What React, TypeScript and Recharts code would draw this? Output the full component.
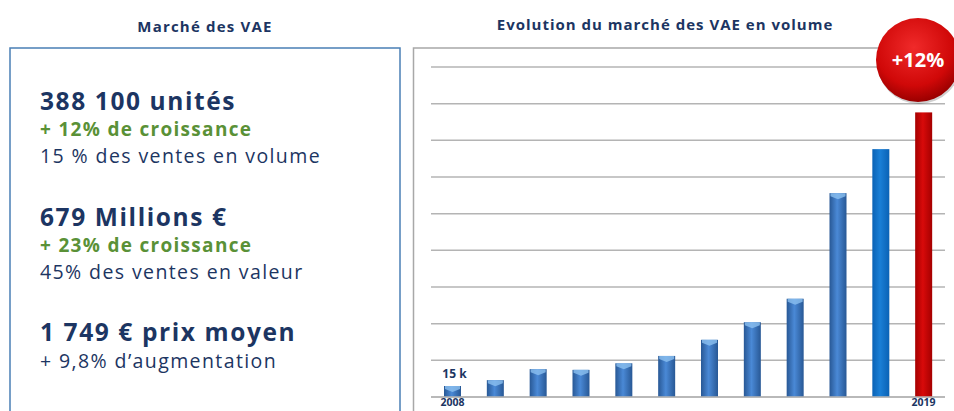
import React from "react";
import { BarChart, Bar, XAxis, YAxis, CartesianGrid, LabelList } from "recharts";

const years = ["2008", "2009", "2010", "2011", "2012", "2013", "2014", "2015", "2016", "2017", "2018", "2019"];
const volumes = [15000, 23000, 38000, 37000, 46000, 56000, 78000, 102000, 134000, 278000, 338000, 388100];
const barLabels = ["15 k", "", "", "", "", "", "", "", "", "", "", ""];
const shownYears = ["2008", "2019"];
const yTicks = [0, 50000, 100000, 150000, 200000, 250000, 300000, 350000, 400000, 450000];
const barTones = ["blue", "blue", "blue", "blue", "blue", "blue", "blue", "blue", "blue", "blue", "bright", "red"];

const leftTitle = "Marché des VAE";
const rightTitle = "Evolution du marché des VAE en volume";
const badgeText = "+12%";
const statLines = [
  { text: "388 100 unités", kind: "big" },
  { text: "+ 12% de croissance", kind: "green" },
  { text: "15 % des ventes en volume", kind: "plain" },
  { text: "679 Millions €", kind: "big" },
  { text: "+ 23% de croissance", kind: "green" },
  { text: "45% des ventes en valeur", kind: "plain" },
  { text: "1 749 € prix moyen", kind: "big" },
  { text: "+ 9,8% d’augmentation", kind: "plain" },
];
const statBaselines = [110, 136, 163, 226, 252, 279, 341, 368];

const data = years.map((y, i) => ({ year: y, value: volumes[i], label: barLabels[i], tone: barTones[i] }));

const NAVY = "#1c3562";
const GREEN = "#5a9137";
const FONT = "'Open Sans', sans-serif";

const styles: Record<string, { size: number; weight: number; spacing: number; color: string }> = {
  big: { size: 24.5, weight: 700, spacing: 1.6, color: NAVY },
  green: { size: 19, weight: 700, spacing: 1.3, color: GREEN },
  plain: { size: 19.5, weight: 400, spacing: 1.4, color: NAVY },
};

const tones: Record<string, { edge: string; mid: string; cap: string }> = {
  blue: { edge: "#285895", mid: "#4a89d6", cap: "#8cc0f0" },
  bright: { edge: "#0a62b5", mid: "#1a7fd6", cap: "#1a7fd6" },
  red: { edge: "#a50000", mid: "#d80a0a", cap: "#d80a0a" },
};

const BarShape = (props: any) => {
  const { x, y, width, height, payload } = props;
  const tone = payload.tone;
  const t = tones[tone];
  if (!height || height <= 0) return null;
  const capH = Math.min(6, height);
  return (
    <g>
      <rect x={x} y={y} width={width} height={height} fill={`url(#grad-${tone})`} />
      {tone === "blue" && (
        <polygon
          points={`${x + 1},${y} ${x + width - 1},${y} ${x + width - 1},${y + capH - 3} ${x + width / 2},${y + capH} ${x + 1},${y + capH - 3}`}
          fill={t.cap}
          opacity={0.8}
        />
      )}
    </g>
  );
};

const renderLabel = (props: any) => {
  const { x, y, width, value } = props;
  if (!value) return null;
  return (
    <text x={x + width / 2 + 2} y={y - 8} textAnchor="middle" fontFamily={FONT} fontWeight={700} fontSize={12} fill={NAVY}>
      {value}
    </text>
  );
};

export default function App() {
  return (
    <div style={{ position: "absolute", left: 0, top: 0, width: 954, height: 411, background: "#fff", overflow: "hidden" }}>
      <svg width={954} height={411} style={{ position: "absolute", left: 0, top: 0 }}>
        <text x={205} y={32} textAnchor="middle" fontFamily={FONT} fontWeight={700} fontSize={15} letterSpacing={1.2} fill={NAVY}>
          {leftTitle}
        </text>
        <text x={665} y={30} textAnchor="middle" fontFamily={FONT} fontWeight={700} fontSize={15} letterSpacing={1} fill={NAVY}>
          {rightTitle}
        </text>
        <rect x={10} y={48} width={390} height={380} fill="none" stroke="#4a7fb5" strokeWidth={1.5} />
        <rect x={413.5} y={48} width={600} height={380} fill="none" stroke="#a8a8a8" strokeWidth={1.5} />
        {statLines.map((l, i) => {
          const s = styles[l.kind];
          return (
            <text
              key={i}
              x={40}
              y={statBaselines[i]}
              fontFamily={FONT}
              fontWeight={s.weight}
              fontSize={s.size}
              letterSpacing={s.spacing}
              fill={s.color}
            >
              {l.text}
            </text>
          );
        })}
      </svg>
      <div style={{ position: "absolute", left: 414, top: 47 }}>
        <BarChart width={540} height={364} data={data} margin={{ top: 20, right: 9, left: 17, bottom: 0 }} barCategoryGap={0}>
          <defs>
            {Object.keys(tones).map((k) => (
              <linearGradient key={k} id={`grad-${k}`} x1="0" y1="0" x2="1" y2="0">
                <stop offset="0%" stopColor={tones[k].edge} />
                <stop offset="45%" stopColor={tones[k].mid} />
                <stop offset="100%" stopColor={tones[k].edge} />
              </linearGradient>
            ))}
          </defs>
          <CartesianGrid horizontal vertical={false} stroke="#b4b4b4" strokeWidth={1.5} />
          <YAxis hide domain={[0, 450000]} ticks={yTicks} />
          <XAxis
            dataKey="year"
            height={14}
            interval={0}
            tickLine={false}
            axisLine={{ stroke: "#b4b4b4", strokeWidth: 1.5 }}
            tickSize={0}
            tickMargin={2}
            tickFormatter={(v: string) => (shownYears.includes(v) ? v : "")}
            tick={{ fontFamily: FONT, fontWeight: 700, fontSize: 10.5, fill: NAVY }}
          />
          <Bar dataKey="value" barSize={17} shape={BarShape} isAnimationActive={false}>
            <LabelList dataKey="label" content={renderLabel} />
          </Bar>
        </BarChart>
      </div>
      <svg width={954} height={411} style={{ position: "absolute", left: 0, top: 0, pointerEvents: "none" }}>
        <defs>
          <radialGradient id="badge" cx="45%" cy="35%" r="65%">
            <stop offset="0%" stopColor="#f02a2a" />
            <stop offset="70%" stopColor="#d00808" />
            <stop offset="100%" stopColor="#9a0000" />
          </radialGradient>
        </defs>
        <circle cx={919} cy={62} r={42} fill="#00000030" />
        <circle cx={918} cy={60} r={42} fill="url(#badge)" />
        <text x={918} y={67} textAnchor="middle" fontFamily={FONT} fontWeight={700} fontSize={20} fill="#fff">
          {badgeText}
        </text>
      </svg>
    </div>
  );
}
